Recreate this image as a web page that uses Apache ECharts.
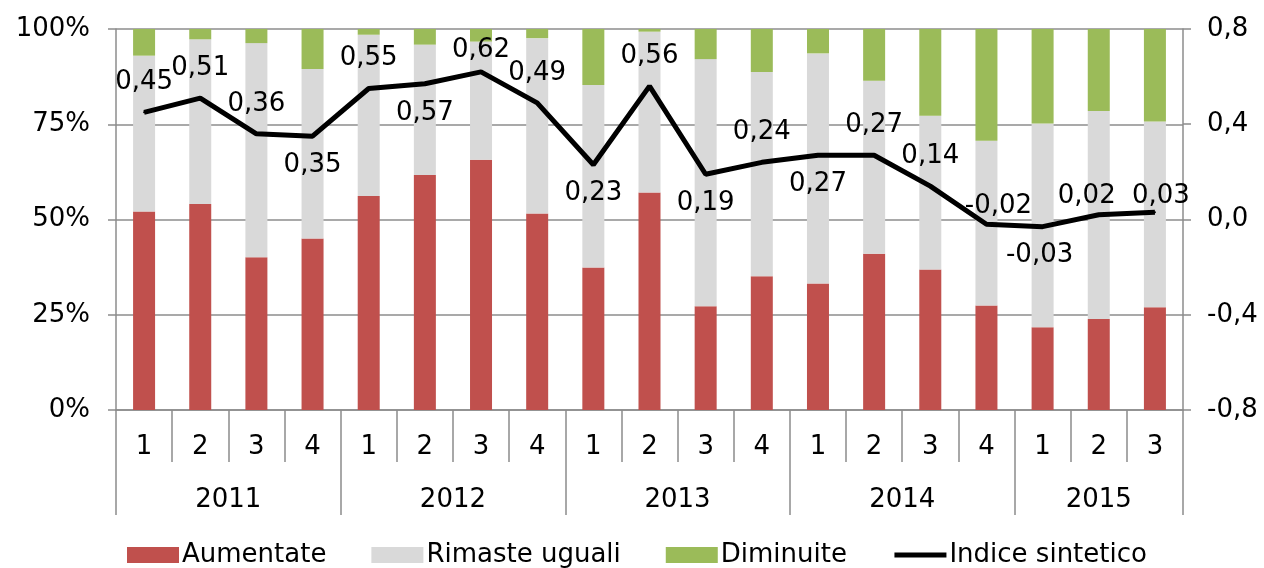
<!DOCTYPE html>
<html><head><meta charset="utf-8">
<script src="https://cdn.jsdelivr.net/npm/echarts@6/dist/echarts.min.js"></script>
<style>html,body{margin:0;padding:0;background:#fff}#c{width:1264px;height:568px}</style>
</head><body><div id="c"></div>
<script>
// ---- data ----
const quarters = ['1','2','3','4','1','2','3','4','1','2','3','4','1','2','3','4','1','2','3'];
const years = ['2011','2012','2013','2014','2015'];
const quartersPerYear = [4,4,4,4,3];
const aumentate = [52.1,54.1,40.1,45.0,56.2,61.7,65.7,51.6,37.4,57.1,27.2,35.1,33.2,41.0,36.9,27.4,21.7,23.9,27.0];
const rimaste   = [40.9,43.2,56.2,44.5,42.3,34.2,31.0,46.0,47.9,42.2,64.9,53.6,60.4,45.4,40.3,43.3,53.5,54.6,48.7];
const diminuite = [7.0,2.7,3.7,10.5,1.5,4.1,3.3,2.4,14.7,0.7,7.9,11.3,6.4,13.6,22.8,29.3,24.8,21.5,24.3];
const indice    = [0.45,0.51,0.36,0.35,0.55,0.57,0.62,0.49,0.23,0.56,0.19,0.24,0.27,0.27,0.14,-0.02,-0.03,0.02,0.03];
const seriesNames = ['Aumentate','Rimaste uguali','Diminuite','Indice sintetico'];

// ---- style ----
const labelSide = ['top','top','top','bottom','top','bottom','top','top','bottom','top','bottom','top','bottom','top','top','top','bottom','top','top'];
const labelNudge = [[0,0],[0,0],[0,0],[0,0],[0,0],[0,0],[0,8],[0,0],[0,0],[0,0],[0,0],[0,0],[0,0],[0,0],[0,0],[12,12],[-3,0],[-12,12],[6,14]];
const FONT = 'DejaVu Sans, Verdana, sans-serif';
const GRID = '#8C8C8C';

// year axis built from quarters per year (points at quarter boundaries and half-points)
const yearSlots = [];
for (let i = 0; i <= quarters.length * 2; i++) yearSlots.push('_' + i);
const yearTickIdx = new Set([0]);
const yearLabelIdx = new Set();
let pos = 0;
years.forEach((y, i) => {
  const n = quartersPerYear[i];
  yearSlots[2 * pos + n] = y;
  yearLabelIdx.add(2 * pos + n);
  pos += n;
  yearTickIdx.add(2 * pos);
});

const fmtComma = (v, d) => v.toFixed(d).replace('.', ',');

const chart = echarts.init(document.getElementById('c'), null, {renderer: 'canvas'});
chart.setOption({
  animation: false,
  textStyle: {fontFamily: FONT, color: '#000'},
  grid: {left: 116, right: 81, top: 29, bottom: 158},
  legend: {
    left: 122, top: 537,
    itemWidth: 52, itemHeight: 16, itemGap: 45,
    textStyle: {fontFamily: FONT, fontSize: 26, color: '#000', padding: [0,0,0,-2]},
    data: [
      {name: seriesNames[0], icon: 'rect'},
      {name: seriesNames[1], icon: 'rect'},
      {name: seriesNames[2], icon: 'rect'},
      {name: seriesNames[3], itemStyle: {opacity: 0}, lineStyle: {width: 5, color: '#000'}}
    ]
  },
  xAxis: [
    {
      type: 'category', position: 'bottom', data: quarters,
      axisLine: {show: true, onZero: false, lineStyle: {color: GRID, width: 1.5}},
      axisTick: {show: true, interval: 0, alignWithLabel: false, length: 52, lineStyle: {color: GRID, width: 1.5}},
      axisLabel: {interval: 0, margin: 24, fontSize: 26, fontFamily: FONT, color: '#000'},
      splitLine: {show: false}
    },
    {
      type: 'category', position: 'bottom', offset: 0, boundaryGap: false, data: yearSlots,
      axisLine: {show: false, onZero: false},
      axisTick: {show: true, interval: (i) => yearTickIdx.has(i), length: 105, lineStyle: {color: GRID, width: 1.5}},
      axisLabel: {interval: (i) => yearLabelIdx.has(i), margin: 77, fontSize: 26, fontFamily: FONT, color: '#000',
        formatter: (v) => v.charAt(0) === '_' ? '' : v},
      splitLine: {show: false}
    }
  ],
  yAxis: [
    {
      type: 'value', min: 0, max: 100, interval: 25,
      axisLine: {show: true, onZero: false, lineStyle: {color: GRID, width: 1.5}},
      axisTick: {show: true, length: 8, lineStyle: {color: GRID, width: 1.5}},
      axisLabel: {margin: 26, fontSize: 26, fontFamily: FONT, color: '#000', formatter: '{value}%'},
      splitLine: {show: true, lineStyle: {color: GRID, width: 1.5}}
    },
    {
      type: 'value', min: -0.8, max: 0.8, interval: 0.4, position: 'right',
      axisLine: {show: true, onZero: false, lineStyle: {color: GRID, width: 1.5}},
      axisTick: {show: true, length: 8, lineStyle: {color: GRID, width: 1.5}},
      axisLabel: {margin: 24, fontSize: 26, fontFamily: FONT, color: '#000', formatter: (v) => fmtComma(v, 1)},
      splitLine: {show: false}
    }
  ],
  series: [
    {name: seriesNames[0], type: 'bar', stack: 's', xAxisIndex: 0, yAxisIndex: 0, barWidth: 22,
      itemStyle: {color: '#C0504D'}, data: aumentate},
    {name: seriesNames[1], type: 'bar', stack: 's', xAxisIndex: 0, yAxisIndex: 0, barWidth: 22,
      itemStyle: {color: '#D9D9D9'}, data: rimaste},
    {name: seriesNames[2], type: 'bar', stack: 's', xAxisIndex: 0, yAxisIndex: 0, barWidth: 22,
      itemStyle: {color: '#9BBB59'}, data: diminuite},
    {name: seriesNames[3], type: 'line', xAxisIndex: 0, yAxisIndex: 1, symbol: 'circle', symbolSize: 2, showSymbol: true, z: 5,
      lineStyle: {color: '#000', width: 5}, itemStyle: {color: '#000'},
      label: {show: true, fontSize: 26, fontFamily: FONT, color: '#000', opacity: 1, formatter: (p) => fmtComma(p.value, 2)},
      labelLayout: (p) => ({hideOverlap: false, dx: labelNudge[p.dataIndex][0], dy: labelNudge[p.dataIndex][1]}),
      data: indice.map((v, i) => ({value: v, label: {show: true, position: labelSide[i],
        distance: labelSide[i] === 'top' ? 16 : 15}}))}
  ]
});
</script></body></html>
